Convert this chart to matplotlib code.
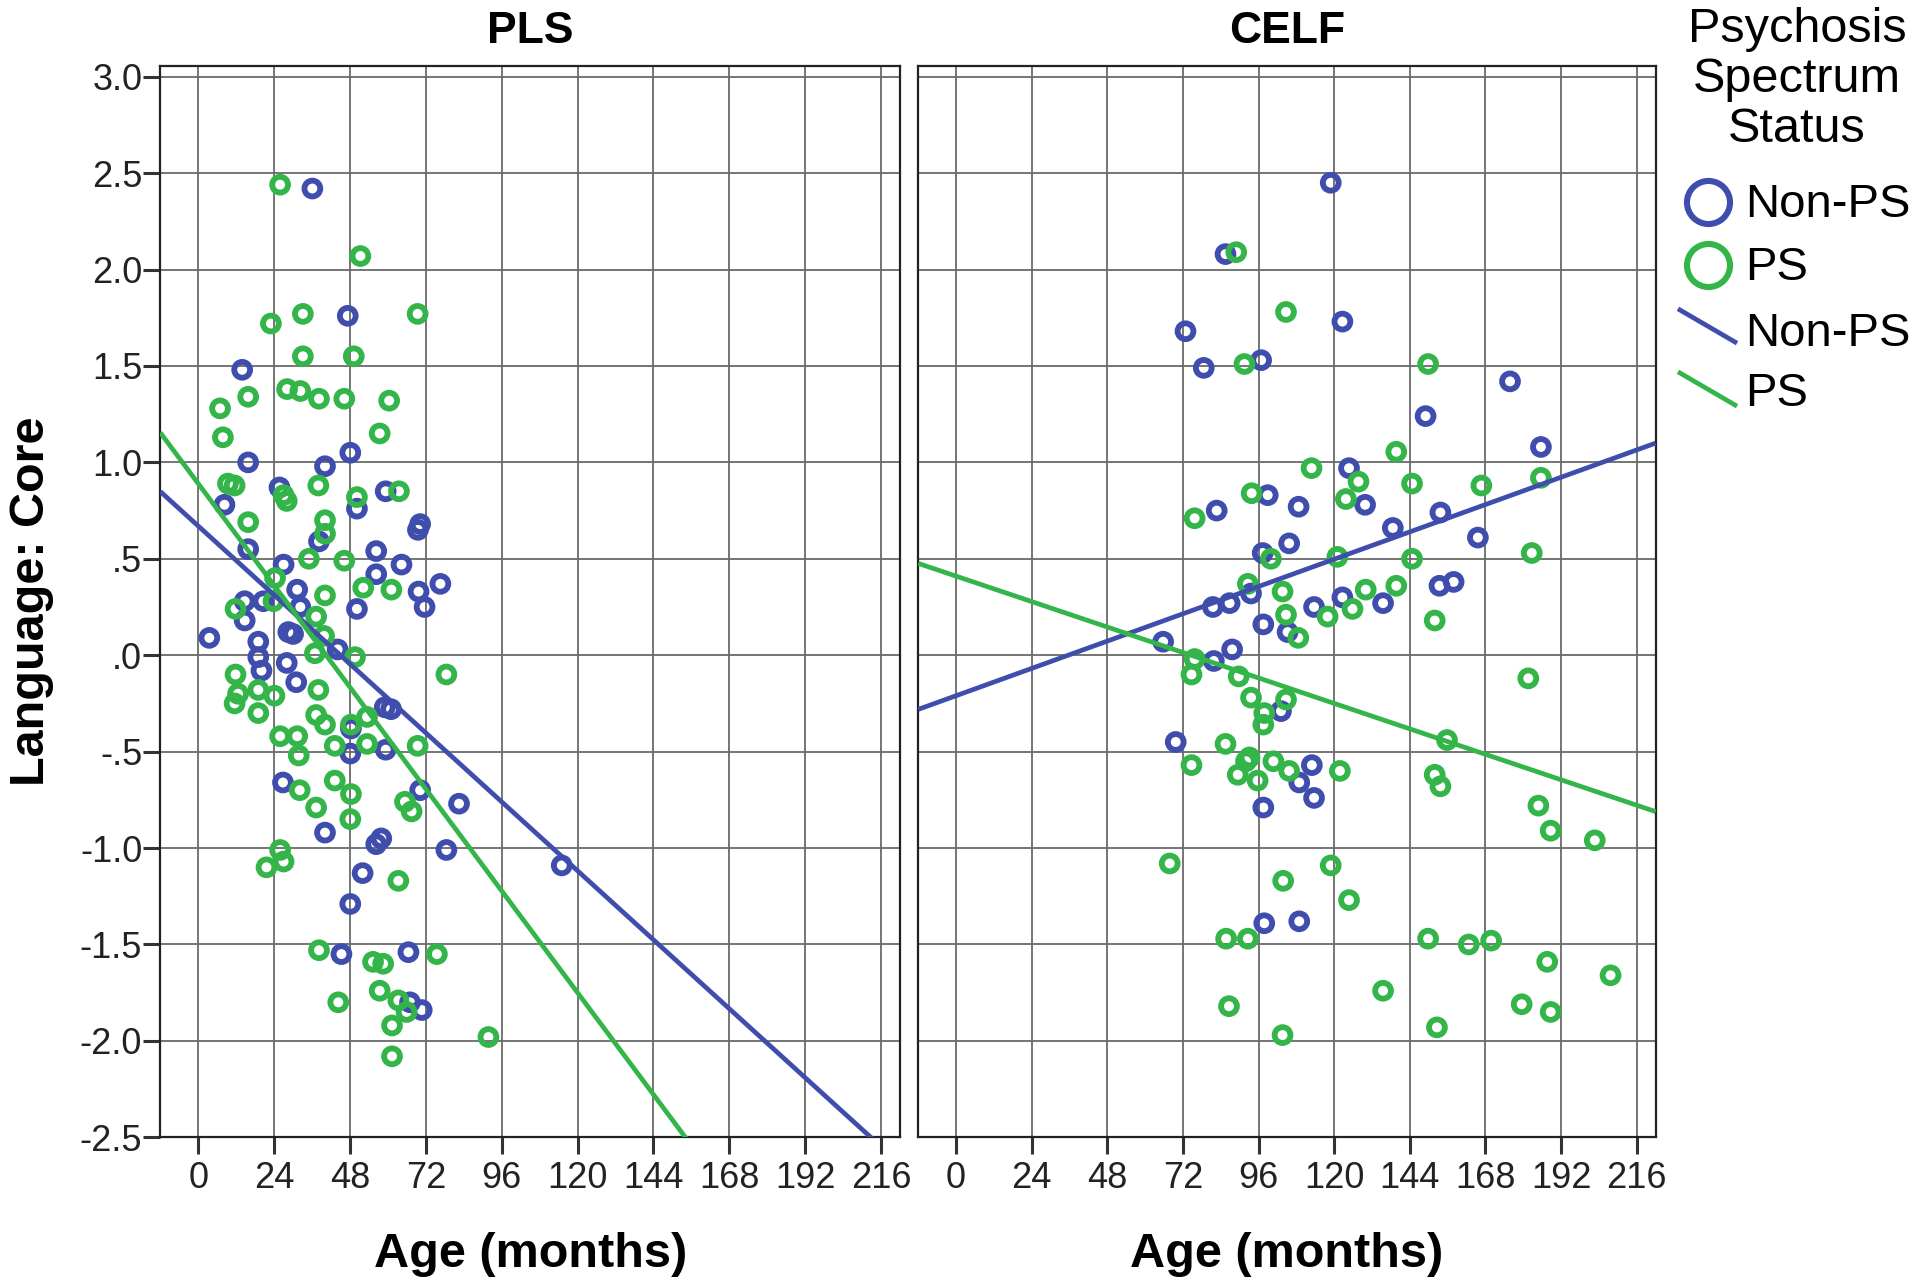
"""
Language: Core vs age, PLS and CELF panels, by psychosis spectrum status.
"""
import matplotlib
matplotlib.use("Agg")
import matplotlib.pyplot as plt
from matplotlib.ticker import FuncFormatter
import numpy as np

plt.rcParams["font.family"] = ["Liberation Sans", "DejaVu Sans"]

BLUE = "#3F4EAD"
GREEN = "#33B54A"
GRID = "#6a6a6a"

# ---- data (age in months, language z score) ----
pls_nonps_age = [36.1, 47.3, 13.9, 48.1, 15.8, 40.1, 25.7, 50.2, 59.3, 8.3,
                 70.2, 69.5, 38.2, 15.8, 56.3, 27.0, 64.3, 56.3, 76.6, 69.7,
                 31.3, 71.6, 14.7, 20.6, 32.3, 50.2, 14.7, 3.5, 28.5, 30.0,
                 19.0, 44.1, 19.0, 28.0, 20.0, 31.0, 59.0, 61.0, 48.3, 48.1,
                 59.3, 26.8, 70.2, 82.5, 40.1, 57.9, 56.3, 78.5, 52.0, 115.0,
                 48.1, 45.3, 66.5, 67.0, 70.7]
pls_nonps_core = [2.42, 1.76, 1.48, 1.05, 1.00, 0.98, 0.87, 0.76, 0.85, 0.78,
                  0.68, 0.65, 0.59, 0.55, 0.54, 0.47, 0.47, 0.42, 0.37, 0.33,
                  0.34, 0.25, 0.28, 0.28, 0.25, 0.24, 0.18, 0.09, 0.12, 0.11,
                  0.07, 0.03, -0.01, -0.04, -0.08, -0.14, -0.27, -0.28, -0.38, -0.51,
                  -0.49, -0.66, -0.70, -0.77, -0.92, -0.95, -0.98, -1.01, -1.13, -1.09,
                  -1.29, -1.55, -1.54, -1.80, -1.84]

pls_ps_age = [25.9, 51.3, 23.0, 33.1, 69.4, 33.1, 49.2, 28.1, 32.3, 38.2,
              46.2, 60.4, 15.8, 6.9, 7.8, 57.4, 9.4, 11.5, 38.0, 27.0,
              28.0, 50.2, 63.5, 15.8, 40.1, 40.1, 35.0, 46.2, 24.3, 52.2,
              61.1, 40.1, 11.8, 23.8, 37.3, 39.8, 36.9, 49.6, 11.8, 78.5,
              38.0, 19.0, 12.6, 24.1, 11.5, 19.0, 37.3, 53.4, 40.1, 48.3,
              25.9, 31.3, 53.4, 69.4, 43.2, 31.8, 32.1, 43.2, 48.3, 65.4,
              67.5, 37.3, 48.1, 25.9, 27.0, 21.6, 63.3, 38.2, 55.3, 58.5,
              75.5, 57.4, 44.3, 63.3, 65.9, 61.3, 91.8, 61.3]
pls_ps_core = [2.44, 2.07, 1.72, 1.77, 1.77, 1.55, 1.55, 1.38, 1.37, 1.33,
               1.33, 1.32, 1.34, 1.28, 1.13, 1.15, 0.89, 0.88, 0.88, 0.83,
               0.80, 0.82, 0.85, 0.69, 0.70, 0.63, 0.50, 0.49, 0.40, 0.35,
               0.34, 0.31, 0.24, 0.28, 0.20, 0.10, 0.01, -0.01, -0.10, -0.10,
               -0.18, -0.18, -0.20, -0.21, -0.25, -0.30, -0.31, -0.32, -0.36, -0.36,
               -0.42, -0.42, -0.46, -0.47, -0.47, -0.52, -0.70, -0.65, -0.72, -0.76,
               -0.81, -0.79, -0.85, -1.01, -1.07, -1.10, -1.17, -1.53, -1.59, -1.60,
               -1.55, -1.74, -1.80, -1.79, -1.85, -1.92, -1.98, -2.08]

celf_nonps_age = [118.9, 85.5, 122.6, 72.8, 78.6, 96.8, 175.8, 149.0, 185.6, 124.7,
                  129.8, 98.9, 108.7, 82.7, 153.7, 138.6, 165.6, 105.7, 97.3, 93.6,
                  81.5, 86.8, 122.6, 113.6, 135.5, 153.4, 157.9, 97.5, 105.2, 65.7,
                  87.6, 81.8, 103.1, 69.7, 108.9, 112.9, 113.6, 97.5, 97.8, 108.9]
celf_nonps_core = [2.45, 2.08, 1.73, 1.68, 1.49, 1.53, 1.42, 1.24, 1.08, 0.97,
                   0.78, 0.83, 0.77, 0.75, 0.74, 0.66, 0.61, 0.58, 0.53, 0.32,
                   0.25, 0.27, 0.30, 0.25, 0.27, 0.36, 0.38, 0.16, 0.12, 0.07,
                   0.03, -0.03, -0.29, -0.45, -0.66, -0.57, -0.74, -0.79, -1.39, -1.38]

celf_ps_age = [88.9, 104.7, 91.5, 149.8, 112.8, 127.7, 123.7, 93.8, 75.7, 139.7,
               144.7, 166.7, 185.6, 182.7, 144.7, 139.7, 99.9, 121.0, 92.6, 103.6,
               130.0, 117.9, 125.8, 104.7, 108.6, 151.9, 75.7, 74.7, 89.7, 181.6,
               93.6, 104.7, 97.8, 97.5, 155.8, 85.5, 74.7, 93.1, 92.0, 100.7,
               89.4, 95.7, 105.7, 121.8, 151.9, 153.7, 184.8, 188.7, 202.7, 67.8,
               103.8, 118.9, 124.7, 85.7, 92.6, 149.8, 162.7, 169.8, 187.6, 207.7,
               135.5, 179.5, 188.7, 86.6, 103.6, 152.6]
celf_ps_core = [2.09, 1.78, 1.51, 1.51, 0.97, 0.90, 0.81, 0.84, 0.71, 1.055,
                0.89, 0.88, 0.92, 0.53, 0.50, 0.36, 0.50, 0.51, 0.37, 0.33,
                0.34, 0.20, 0.24, 0.21, 0.09, 0.18, -0.02, -0.10, -0.11, -0.12,
                -0.22, -0.23, -0.30, -0.36, -0.44, -0.46, -0.57, -0.53, -0.55, -0.55,
                -0.62, -0.65, -0.60, -0.60, -0.62, -0.68, -0.78, -0.91, -0.96, -1.08,
                -1.17, -1.09, -1.27, -1.47, -1.47, -1.47, -1.50, -1.48, -1.59, -1.66,
                -1.74, -1.81, -1.85, -1.82, -1.97, -1.93]

# fit lines as drawn in the figure: (intercept, slope per month)
pls_nonps_fit = (0.67, -0.0149)
pls_ps_fit = (0.89, -0.0220)
celf_nonps_fit = (-0.21, 0.0059)
celf_ps_fit = (0.41, -0.0055)

x_ticks = list(range(0, 217, 24))
y_ticks = [3.0, 2.5, 2.0, 1.5, 1.0, 0.5, 0.0, -0.5, -1.0, -1.5, -2.0, -2.5]
XLIM = (-12, 222)
YLIM = (-2.5, 3.057)


def spss_fmt(v, pos):
    s = f"{v:.1f}"
    return s.replace("0.", ".") if abs(v) < 1 else s


def draw_panel(ax, title, groups, fits, show_y):
    for (age, core), color in groups:
        ax.scatter(age, core, s=130, facecolors="none", edgecolors=color,
                   linewidths=4.2, zorder=3)
    xs = np.array(XLIM, dtype=float)
    for (b0, b1), color in fits:
        ax.plot(xs, b0 + b1 * xs, color=color, lw=3.4, zorder=4,
                solid_capstyle="butt")

    ax.set_xlim(*XLIM)
    ax.set_ylim(*YLIM)
    ax.set_xticks(x_ticks)
    ax.set_yticks(y_ticks)
    ax.yaxis.set_major_formatter(FuncFormatter(spss_fmt))
    ax.grid(True, color=GRID, lw=1.3)
    ax.set_axisbelow(True)
    for sp in ax.spines.values():
        sp.set_color("#222222")
        sp.set_linewidth(1.6)
    ax.tick_params(axis="x", length=12, width=2.2, color="#333333",
                   labelsize=26, pad=5, labelcolor="#222222")
    ax.tick_params(axis="y", length=12, width=2.2, color="#333333",
                   labelsize=26, pad=1, labelcolor="#222222",
                   left=show_y, labelleft=show_y)
    ax.set_title(title, fontsize=32, fontweight="bold", pad=16)
    ax.set_xlabel("Age (months)", fontsize=35, fontweight="bold")
    ax.xaxis.set_label_coords(0.5, -0.1098)
    ax.xaxis.label.set_va("center")


def draw_legend(fig):
    lax = fig.add_axes([1660 / 1920, 1 - 420 / 1288, 260 / 1920, 420 / 1288])
    lax.set_xlim(0, 260)
    lax.set_ylim(420, 0)
    lax.axis("off")
    for yy, word in zip([30, 80, 130], ["Psychosis", "Spectrum", "Status"]):
        lax.text(137, yy, word, fontsize=35, ha="center", va="center")
    lax.plot([48], [202], "o", ms=31, mfc="none", mec=BLUE, mew=4.4)
    lax.plot([48], [265], "o", ms=31, mfc="none", mec=GREEN, mew=4.4)
    lax.plot([20, 75], [310, 342], color=BLUE, lw=3.4)
    lax.plot([20, 75], [373, 405], color=GREEN, lw=3.4)
    for yy, word in zip([205, 268, 334, 394], ["Non-PS", "PS", "Non-PS", "PS"]):
        lax.text(85, yy, word, fontsize=34, ha="left", va="center")


def main():
    fig = plt.figure(figsize=(19.2, 12.88), dpi=100, facecolor="white")
    ax1 = fig.add_axes([160.3 / 1920, 1 - 1137.3 / 1288, 739.7 / 1920, 1071.6 / 1288])
    ax2 = fig.add_axes([918.3 / 1920, 1 - 1137.3 / 1288, 737.3 / 1920, 1071.6 / 1288])

    draw_panel(ax1, "PLS",
               [((pls_nonps_age, pls_nonps_core), BLUE),
                ((pls_ps_age, pls_ps_core), GREEN)],
               [(pls_nonps_fit, BLUE), (pls_ps_fit, GREEN)], True)
    draw_panel(ax2, "CELF",
               [((celf_nonps_age, celf_nonps_core), BLUE),
                ((celf_ps_age, celf_ps_core), GREEN)],
               [(celf_nonps_fit, BLUE), (celf_ps_fit, GREEN)], False)

    ax1.set_ylabel("Language: Core", fontsize=35, fontweight="bold")
    ax1.yaxis.set_label_coords(-0.1747, 0.5)
    ax1.yaxis.label.set_va("center")

    draw_legend(fig)
    fig.savefig("out.png", dpi=100, facecolor="white")
    plt.close(fig)


if __name__ == "__main__":
    main()
